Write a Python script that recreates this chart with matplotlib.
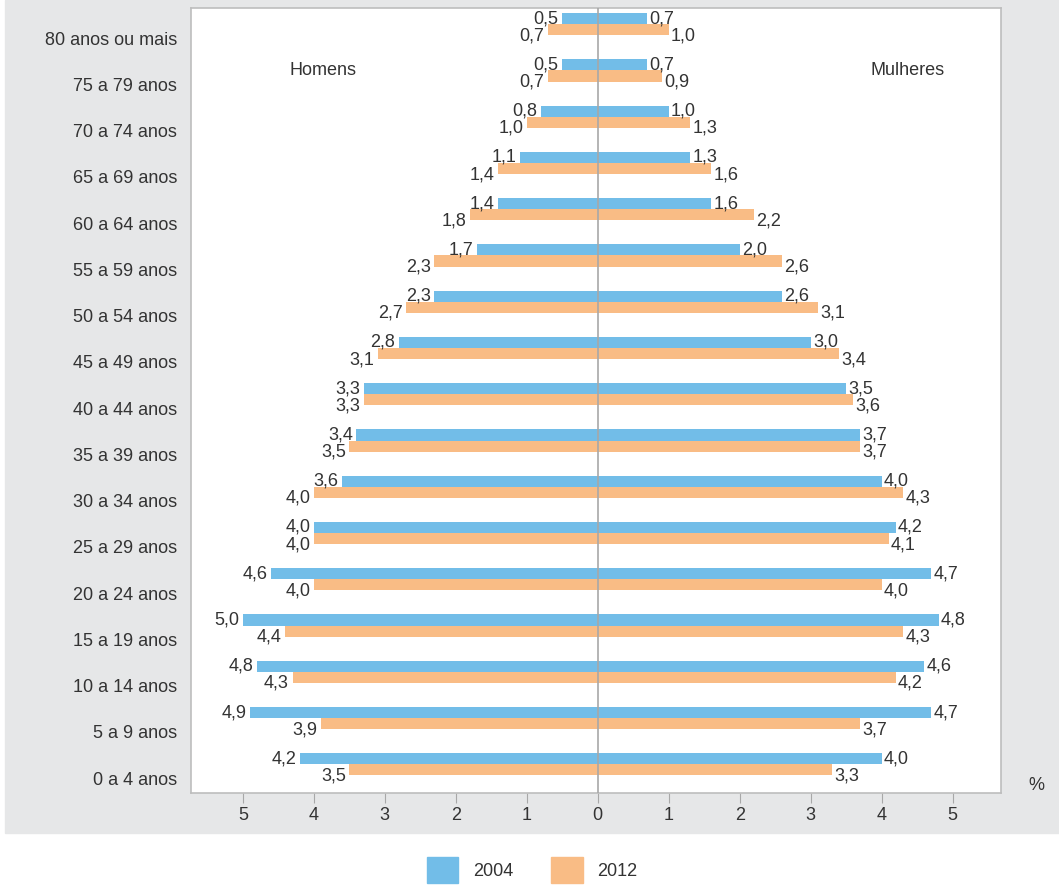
import matplotlib
matplotlib.use('Agg')
import matplotlib.pyplot as plt
from matplotlib.patches import Patch, Rectangle

plt.rcParams['font.family'] = ['Liberation Sans', 'DejaVu Sans']

# faixas etarias, de baixo para cima
faixas = ['0 a 4 anos', '5 a 9 anos', '10 a 14 anos', '15 a 19 anos', '20 a 24 anos',
          '25 a 29 anos', '30 a 34 anos', '35 a 39 anos', '40 a 44 anos', '45 a 49 anos',
          '50 a 54 anos', '55 a 59 anos', '60 a 64 anos', '65 a 69 anos', '70 a 74 anos',
          '75 a 79 anos', '80 anos ou mais']
homens_2004 = [4.2, 4.9, 4.8, 5.0, 4.6, 4.0, 3.6, 3.4, 3.3, 2.8, 2.3, 1.7, 1.4, 1.1, 0.8, 0.5, 0.5]
homens_2012 = [3.5, 3.9, 4.3, 4.4, 4.0, 4.0, 4.0, 3.5, 3.3, 3.1, 2.7, 2.3, 1.8, 1.4, 1.0, 0.7, 0.7]
mulheres_2004 = [4.0, 4.7, 4.6, 4.8, 4.7, 4.2, 4.0, 3.7, 3.5, 3.0, 2.6, 2.0, 1.6, 1.3, 1.0, 0.7, 0.7]
mulheres_2012 = [3.3, 3.7, 4.2, 4.3, 4.0, 4.1, 4.3, 3.7, 3.6, 3.4, 3.1, 2.6, 2.2, 1.6, 1.3, 0.9, 1.0]
anos = ['2004', '2012']
xticks = [-5, -4, -3, -2, -1, 0, 1, 2, 3, 4, 5]

azul = '#72bde8'
laranja = '#f9bc85'
cinza_fundo = '#e6e7e8'
texto = '#333333'
fs = 13


def fmt(v):
    return ('%.1f' % v).replace('.', ',')


fig = plt.figure(figsize=(10.59, 8.85), dpi=100)
fundo = Rectangle((5 / 1059, 1 - 833 / 885), 1, 833 / 885, transform=fig.transFigure,
                  color=cinza_fundo, zorder=-10)
fig.add_artist(fundo)
ax = fig.add_axes([191 / 1059, 1 - 793 / 885, 810 / 1059, 785 / 885])
ax.set_zorder(1)

y = list(range(len(faixas)))
h = 0.24
yb = [i + h / 2 for i in y]
yo = [i - h / 2 for i in y]
ax.barh(yb, [-v for v in homens_2004], height=h, color=azul, zorder=2)
ax.barh(yo, [-v for v in homens_2012], height=h, color=laranja, zorder=2)
ax.barh(yb, mulheres_2004, height=h, color=azul, zorder=2)
ax.barh(yo, mulheres_2012, height=h, color=laranja, zorder=2)
ax.axvline(0, color='#a8a8a8', lw=1.2, zorder=3)

for i in y:
    ax.text(-homens_2004[i] - 0.05, yb[i] + 0.0, fmt(homens_2004[i]), ha='right', va='center',
            fontsize=fs, color=texto)
    ax.text(-homens_2012[i] - 0.05, yo[i] - 0.13, fmt(homens_2012[i]), ha='right', va='center',
            fontsize=fs, color=texto)
    ax.text(mulheres_2004[i] + 0.03, yb[i] + 0.0, fmt(mulheres_2004[i]), ha='left', va='center',
            fontsize=fs, color=texto)
    ax.text(mulheres_2012[i] + 0.03, yo[i] - 0.13, fmt(mulheres_2012[i]), ha='left', va='center',
            fontsize=fs, color=texto)

ax.set_xlim(-5.73, 5.68)
ax.set_ylim(-0.62, 16.35)
ax.set_xticks(xticks)
ax.set_xticklabels([str(abs(t)) for t in xticks], fontsize=fs, color=texto)
ax.set_yticks([i - 0.3 for i in y])
ax.set_yticklabels(faixas, fontsize=fs, color=texto)
ax.tick_params(axis='y', length=0, pad=10)
ax.tick_params(axis='x', length=7, color='#a8a8a8', pad=3, direction='out')
for s in ax.spines.values():
    s.set_color('#bdbdbd')
    s.set_linewidth(1.2)

ax.text(0.163, 0.921, 'Homens', transform=ax.transAxes, ha='center', va='center',
        fontsize=fs, color=texto)
ax.text(0.885, 0.921, 'Mulheres', transform=ax.transAxes, ha='center', va='center',
        fontsize=fs, color=texto)
fig.text(1036 / 1059, 1 - 785 / 885, '%', ha='center', va='center', fontsize=fs, color=texto)

handles = [Patch(color=azul), Patch(color=laranja)]
fig.legend(handles, anos, loc='center', bbox_to_anchor=(532 / 1059, 1 - 870 / 885), ncol=2,
           frameon=False, fontsize=fs, handlelength=1.75, handleheight=1.9,
           handletextpad=0.8, columnspacing=2.1, labelcolor=texto)

fig.savefig('out.png', dpi=100)
